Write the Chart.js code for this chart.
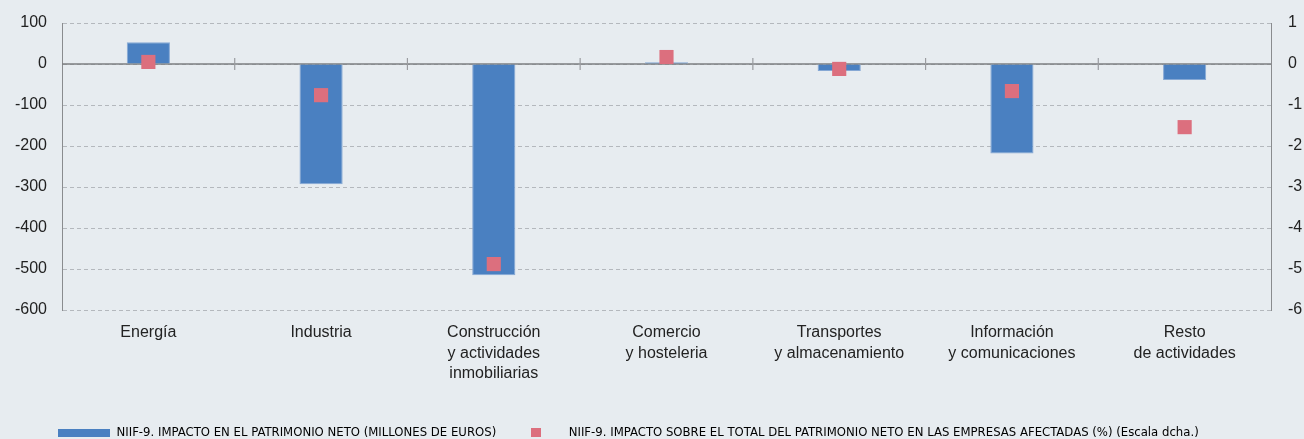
<!DOCTYPE html>
<html>
<head>
<meta charset="utf-8">
<script src="https://cdn.jsdelivr.net/npm/chart.js@4.4.1/dist/chart.umd.min.js"></script>
<style>
  html, body { margin: 0; padding: 0; background: #e7ecf0; }
  #wrap { width: 1304px; height: 439px; }
</style>
</head>
<body>
<div id="wrap"><canvas id="myChart" width="1304" height="439"></canvas></div>
<script>
var categories = [
  ["Energía"],
  ["Industria"],
  ["Construcción", "y actividades", "inmobiliarias"],
  ["Comercio", "y hosteleria"],
  ["Transportes", "y almacenamiento"],
  ["Información", "y comunicaciones"],
  ["Resto", "de actividades"],
];
// millones de euros (eje izq.)
var impacto = [53, -293, -515, 4, -17, -218, -39];
// % sobre patrimonio neto (eje dcho.)
var impactoPct = [0.05, -0.76, -4.88, 0.17, -0.12, -0.66, -1.54];

var leftTicks = [100, 0, -100, -200, -300, -400, -500, -600];
var rightTicks = [1, 0, -1, -2, -3, -4, -5, -6];

var barLabel = "NIIF-9. IMPACTO EN EL PATRIMONIO NETO (MILLONES DE EUROS)";
var pointLabel = "NIIF-9. IMPACTO SOBRE EL TOTAL DEL PATRIMONIO NETO EN LAS EMPRESAS AFECTADAS (%) (Escala dcha.)";

var BLUE = "#4a80c1";
var RED = "#dc6f7e";

function swatch(w, h, color) {
  var c = document.createElement("canvas");
  c.width = w;
  c.height = h;
  var cx = c.getContext("2d");
  cx.fillStyle = color;
  cx.fillRect(0, 0, w, h);
  return c;
}
var blueSwatch = swatch(52, 8, BLUE);
var redSwatch = swatch(10, 9, RED);

// zero line + category separators on the zero line
var zeroLine = {
  id: "zeroLine",
  afterLayout: function (chart) {
    // legend starts a bit further in than the default
    chart.legend.left = 44;
  },
  beforeDatasetsDraw: function (chart) {
    var ctx = chart.ctx;
    var area = chart.chartArea;
    var y0 = chart.scales.y.getPixelForValue(0);
    var x = chart.scales.x;
    ctx.save();
    ctx.strokeStyle = "#7d7f82";
    ctx.lineWidth = 1.5;
    ctx.beginPath();
    ctx.moveTo(area.left, y0);
    ctx.lineTo(area.right, y0);
    ctx.stroke();
    ctx.strokeStyle = "#9a9ca0";
    ctx.lineWidth = 1.2;
    for (var i = 1; i < categories.length; i++) {
      var bx = (x.getPixelForValue(i - 1) + x.getPixelForValue(i)) / 2;
      ctx.beginPath();
      ctx.moveTo(bx, y0 - 6);
      ctx.lineTo(bx, y0 + 6);
      ctx.stroke();
    }
    ctx.restore();
  },
};

var ctx = document.getElementById("myChart").getContext("2d");
var chart = new Chart(ctx, {
  data: {
    labels: categories,
    datasets: [
      {
        type: "line",
        label: pointLabel,
        data: impactoPct,
        yAxisID: "y1",
        showLine: false,
        pointStyle: "rect",
        pointRadius: 10,
        pointHoverRadius: 10,
        pointBorderWidth: 0,
        backgroundColor: RED,
        borderColor: RED,
        order: 0,
      },
      {
        type: "bar",
        label: barLabel,
        data: impacto,
        yAxisID: "y",
        backgroundColor: BLUE,
        borderColor: "#86a8d4",
        borderWidth: 1,
        barPercentage: 0.25,
        categoryPercentage: 1,
        order: 1,
      },
    ],
  },
  options: {
    responsive: false,
    animation: false,
    layout: { padding: { top: 23, left: 0, right: 0, bottom: -10 } },
    plugins: {
      tooltip: { enabled: false },
      legend: {
        position: "bottom",
        align: "start",
        labels: {
          color: "#222",
          font: { family: "'Liberation Sans Narrow', 'DejaVu Sans Condensed', sans-serif", size: 13 },
          usePointStyle: true,
          pointStyleWidth: 52,
          padding: 14,
          generateLabels: function (chart) {
            return [
              { text: barLabel, pointStyle: blueSwatch, fillStyle: BLUE, strokeStyle: BLUE, lineWidth: 0, datasetIndex: 1 },
              { text: pointLabel, pointStyle: redSwatch, fillStyle: RED, strokeStyle: RED, lineWidth: 0, datasetIndex: 0 },
            ];
          },
        },
      },
    },
    scales: {
      x: {
        grid: { display: false, drawTicks: false },
        border: { display: false },
        ticks: {
          color: "#222",
          font: { family: "'Liberation Sans', Arial, sans-serif", size: 16, lineHeight: 1.3 },
          padding: 12,
          maxRotation: 0,
          autoSkip: false,
        },
        afterFit: function (scale) {
          scale.height = 102;
        },
      },
      y: {
        position: "left",
        min: -600,
        max: 100,
        afterBuildTicks: function (scale) {
          scale.ticks = leftTicks.map(function (v) { return { value: v }; });
        },
        grid: { color: "#b4b8bd", lineWidth: 1, drawTicks: false },
        border: { display: true, color: "#8a8c8f", width: 1, dash: [4, 3] },
        ticks: {
          color: "#222",
          font: { family: "'Liberation Sans', Arial, sans-serif", size: 16 },
          padding: 15,
        },
        afterFit: function (scale) {
          scale.width = 62;
          scale.paddingTop = 0;
          scale.paddingBottom = 0;
        },
      },
      y1: {
        position: "right",
        min: -6,
        max: 1,
        afterBuildTicks: function (scale) {
          scale.ticks = rightTicks.map(function (v) { return { value: v }; });
        },
        grid: { drawOnChartArea: false, drawTicks: false },
        border: { display: true, color: "#8a8c8f", width: 1 },
        ticks: {
          color: "#222",
          font: { family: "'Liberation Sans', Arial, sans-serif", size: 16 },
          padding: 17,
        },
        afterFit: function (scale) {
          scale.width = 33;
          scale.paddingTop = 0;
          scale.paddingBottom = 0;
        },
      },
    },
  },
  plugins: [zeroLine],
});
</script>
</body>
</html>
